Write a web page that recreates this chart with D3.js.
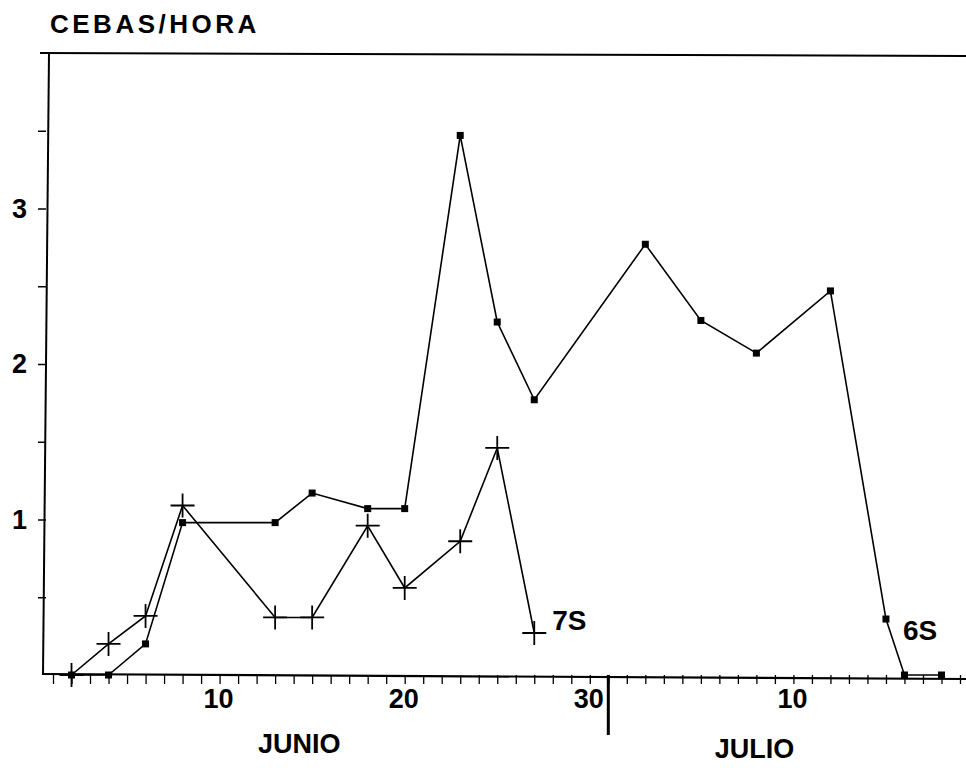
<!DOCTYPE html>
<html>
<head>
<meta charset="utf-8">
<script src="https://cdn.jsdelivr.net/npm/d3@7"></script>
<style>
  body { margin: 0; background: #fff; }
  text { font-family: "Liberation Sans", Arial, sans-serif; font-weight: bold; fill: #000; }
</style>
</head>
<body>
<svg width="966" height="768"></svg>
<script>
// days counted from 1 June; the chart puts 1 July at index 32 (divider at 31)
var days6S   = [2, 4, 6, 8, 13, 15, 18, 20, 23, 25, 27, 33, 36, 39, 43, 46, 47, 49];
var values6S = [0, 0, 0.2, 0.98, 0.98, 1.17, 1.07, 1.07, 3.47, 2.27, 1.77, 2.77, 2.28, 2.07, 2.47, 0.36, 0, 0];

var days7S   = [2, 4, 6, 8, 13, 15, 18, 20, 23, 25, 27];
var values7S = [0, 0.2, 0.38, 1.09, 0.37, 0.37, 0.96, 0.56, 0.86, 1.46, 0.27];

var xTickDays   = [10, 20, 30, 41];
var xTickLabels = ["10", "20", "30", "10"];
var monthNames  = ["JUNIO", "JULIO"];
var monthDays   = [14.3, 38.9];
var monthSplit  = 31;
var yLabels     = [1, 2, 3];

var svg = d3.select("svg");

var x = d3.scaleLinear().domain([1, 50]).range([53, 960]);
var y = d3.scaleLinear().domain([0, 4]).range([675, 53]);

var axisLeftX = 46;

// frame: top line, y axis line, x axis line
svg.append("line")
  .attr("x1", 40).attr("x2", 966).attr("y1", y(4)).attr("y2", y(4) + 3)
  .attr("stroke", "#000").attr("stroke-width", 2);

svg.append("line")
  .attr("x1", axisLeftX + 3).attr("x2", axisLeftX - 3).attr("y1", y(4)).attr("y2", y(0))
  .attr("stroke", "#000").attr("stroke-width", 2);

svg.append("line")
  .attr("x1", axisLeftX - 3).attr("x2", 966).attr("y1", y(0) - 1).attr("y2", y(0) + 4)
  .attr("stroke", "#000").attr("stroke-width", 2.2);

// x axis ticks (every day)
var xAxisG = svg.append("g")
  .attr("transform", "translate(0," + y(0) + ")")
  .call(d3.axisBottom(x)
    .tickValues(d3.range(1, 51))
    .tickSize(9)
    .tickSizeOuter(0)
    .tickFormat(""));
xAxisG.select(".domain").remove();
xAxisG.selectAll(".tick line").attr("stroke-width", 1.3);

svg.selectAll(".xlab")
  .data(xTickDays)
  .enter().append("text")
  .attr("class", "xlab")
  .attr("x", function(d) { return x(d) - 1; })
  .attr("y", 708)
  .attr("text-anchor", "middle")
  .attr("font-size", 27)
  .text(function(d, i) { return xTickLabels[i]; });

svg.selectAll(".month")
  .data(monthNames)
  .enter().append("text")
  .attr("class", "month")
  .attr("x", function(d, i) { return x(monthDays[i]); })
  .attr("y", function(d, i) { return i === 0 ? 753 : 758; })
  .attr("text-anchor", "middle")
  .attr("font-size", 27)
  .text(function(d) { return d; });

// month divider
svg.append("line")
  .attr("x1", x(monthSplit)).attr("x2", x(monthSplit))
  .attr("y1", y(0)).attr("y2", 735)
  .attr("stroke", "#000").attr("stroke-width", 3);

// y axis ticks
var yAxisG = svg.append("g")
  .attr("transform", "translate(" + axisLeftX + ",0)")
  .call(d3.axisLeft(y)
    .tickValues([0.5, 1, 1.5, 2, 2.5, 3, 3.5])
    .tickSize(8)
    .tickSizeOuter(0)
    .tickPadding(11)
    .tickFormat(function(d) { return yLabels.indexOf(d) >= 0 ? d : ""; }));
yAxisG.select(".domain").remove();
yAxisG.selectAll(".tick line").attr("stroke-width", 1.5);
yAxisG.selectAll(".tick text")
  .attr("font-size", 27)
  .attr("font-family", "Liberation Sans, Arial, sans-serif")
  .attr("font-weight", "bold")
  .attr("fill", "#000");

// title
svg.append("text")
  .attr("x", 50).attr("y", 33)
  .attr("font-size", 26)
  .attr("letter-spacing", 3.5)
  .text("CEBAS/HORA");

// series
var line = d3.line()
  .x(function(d) { return x(d[0]); })
  .y(function(d) { return y(d[1]); });

var pts6S = d3.zip(days6S, values6S);
var pts7S = d3.zip(days7S, values7S);

svg.append("path")
  .datum(pts6S)
  .attr("d", line)
  .attr("fill", "none").attr("stroke", "#000").attr("stroke-width", 1.6);

svg.append("path")
  .datum(pts7S)
  .attr("d", line)
  .attr("fill", "none").attr("stroke", "#000").attr("stroke-width", 1.6);

svg.selectAll(".sq")
  .data(pts6S)
  .enter().append("rect")
  .attr("class", "sq")
  .attr("x", function(d) { return x(d[0]) - 3.5; })
  .attr("y", function(d) { return y(d[1]) - 3.5; })
  .attr("width", 7).attr("height", 7)
  .attr("fill", "#000");

svg.selectAll(".pl")
  .data(pts7S)
  .enter().append("path")
  .attr("class", "pl")
  .attr("transform", function(d) { return "translate(" + x(d[0]) + "," + y(d[1]) + ")"; })
  .attr("d", "M-12,0H12M0,-12V12")
  .attr("stroke", "#000").attr("stroke-width", 1.8);

// series labels
svg.append("text")
  .attr("x", x(days7S[days7S.length - 1]) + 18)
  .attr("y", 630)
  .attr("font-size", 28)
  .text("7S");

svg.append("text")
  .attr("x", x(46) + 17)
  .attr("y", 640)
  .attr("font-size", 28)
  .text("6S");
</script>
</body>
</html>
